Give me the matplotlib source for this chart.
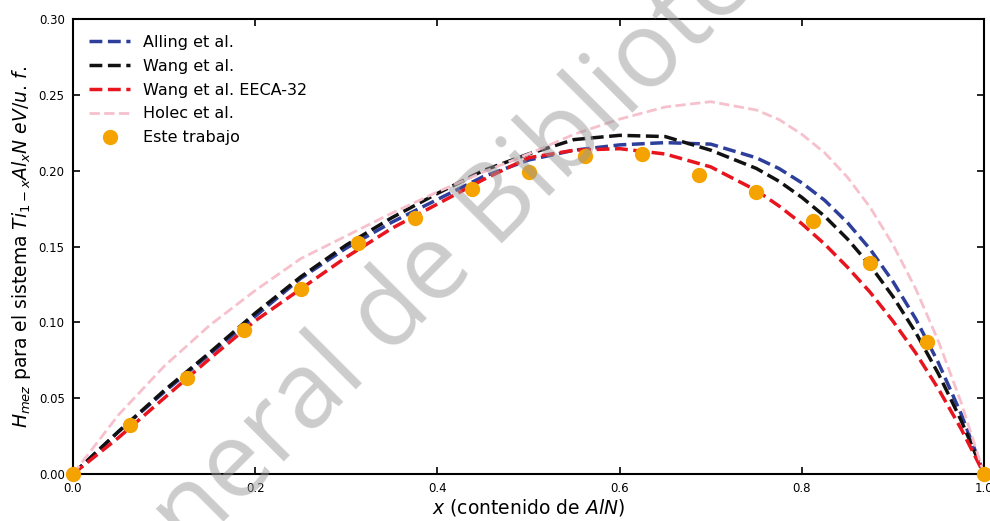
import matplotlib
matplotlib.use("Agg")
import matplotlib.pyplot as plt

# Composition grid shared by the reference curves (finer near the AlN-rich end)
x_curve = [0.0, 0.05, 0.10, 0.15, 0.20, 0.25, 0.30, 0.35, 0.40, 0.45, 0.50,
           0.55, 0.60, 0.65, 0.70, 0.75, 0.775, 0.80, 0.825, 0.85, 0.875,
           0.90, 0.925, 0.95, 0.975, 1.0]

alling = [0.0, 0.028, 0.054, 0.079, 0.104, 0.129, 0.149, 0.166, 0.181, 0.196, 0.207,
          0.2135, 0.217, 0.2185, 0.2175, 0.2085, 0.2014, 0.192, 0.1805, 0.1658, 0.1482,
          0.1269, 0.1023, 0.0732, 0.0394, 0.0]
wang = [0.0, 0.028, 0.055, 0.080, 0.106, 0.130, 0.151, 0.169, 0.185, 0.200, 0.211,
        0.2205, 0.2233, 0.2225, 0.2135, 0.2015, 0.193, 0.1824, 0.170, 0.155, 0.1375,
        0.117, 0.0933, 0.066, 0.0351, 0.0]
wang_eeca = [0.0, 0.024, 0.050, 0.076, 0.101, 0.122, 0.143, 0.162, 0.178, 0.194, 0.2085,
             0.2135, 0.2145, 0.211, 0.2025, 0.187, 0.1767, 0.165, 0.1516, 0.1364, 0.1198,
             0.1008, 0.0798, 0.056, 0.0296, 0.0]
holec = [0.0, 0.039, 0.071, 0.098, 0.121, 0.142, 0.157, 0.172, 0.186, 0.199, 0.211,
         0.224, 0.234, 0.242, 0.2455, 0.240, 0.2337, 0.224, 0.2118, 0.1957, 0.1758,
         0.1512, 0.1221, 0.0874, 0.0469, 0.0]

# Mixing enthalpy computed in this work (x = k/16)
x_this = [0/16, 1/16, 2/16, 3/16, 4/16, 5/16, 6/16, 7/16, 8/16,
          9/16, 10/16, 11/16, 12/16, 13/16, 14/16, 15/16, 16/16]
h_this = [0.0, 0.032, 0.063, 0.095, 0.122, 0.152, 0.169, 0.188, 0.199,
          0.210, 0.211, 0.197, 0.186, 0.167, 0.139, 0.087, 0.0]

x_ticks = [0.0, 0.2, 0.4, 0.6, 0.8, 1.0]
y_ticks = [0.00, 0.05, 0.10, 0.15, 0.20, 0.25, 0.30]

fig = plt.figure(figsize=(9.9, 5.21), dpi=100)
ax = fig.add_axes([0.0737, 0.0902, 0.9203, 0.8733])

ax.plot(x_curve, alling, ls="--", lw=2.5, color="#2e3f9b", label="Alling et al.")
ax.plot(x_curve, wang, ls="--", lw=2.5, color="#111111", label="Wang et al.")
ax.plot(x_curve, wang_eeca, ls="--", lw=2.5, color="#e8141e", label="Wang et al. EECA-32")
ax.plot(x_curve, holec, ls="--", lw=2.0, color="#f6c1cd", label="Holec et al.")
ax.plot(x_this, h_this, ls="none", marker="o", ms=10, color="#f5a300",
        label="Este trabajo", clip_on=False, zorder=5)

ax.set_xlim(0, 1)
ax.set_ylim(0, 0.30)
ax.set_xticks(x_ticks)
ax.set_yticks(y_ticks)
ax.set_xticklabels([f"{v:.1f}" for v in x_ticks])
ax.set_yticklabels([f"{v:.2f}" for v in y_ticks])
ax.tick_params(direction="in", top=True, right=True, labelsize=8.5,
               length=5, width=1.2, pad=6)
for s in ax.spines.values():
    s.set_linewidth(1.5)

ax.set_xlabel(r"$x$ (contenido de $AlN$)", fontsize=13.5, labelpad=1)
ax.set_ylabel(r"$H_{mez}$ para el sistema $Ti_{1-x}Al_xN$ $eV/u.\,f.$",
              fontsize=13.5, labelpad=4)

ax.legend(loc="upper left", frameon=False, fontsize=11.5,
          handlelength=2.6, borderaxespad=0.6, labelspacing=0.55)

# Library watermark across the plot
fig.text(0.45, 0.50, "General de Biblioteca", fontsize=76, family="Open Sans",
         color="#9a9a9a", alpha=0.5, rotation=45, rotation_mode="anchor",
         ha="center", va="center", zorder=10)

fig.savefig("out.png", dpi=100)
